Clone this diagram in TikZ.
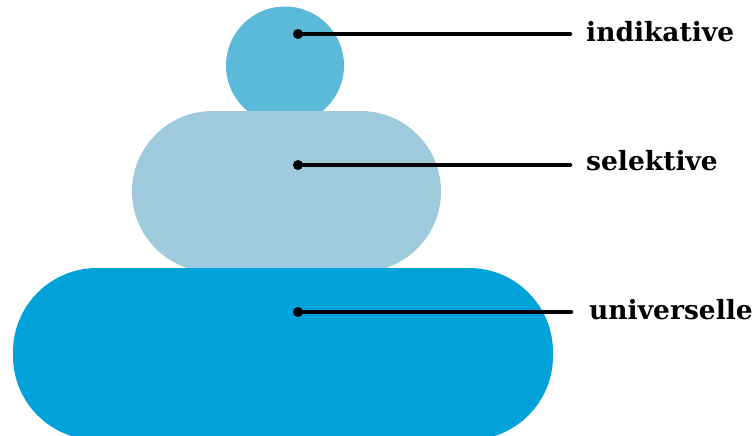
\documentclass[tikz,border=0pt]{standalone}
\usepackage{fontspec}
\setmainfont{DejaVu Serif}
\usetikzlibrary{shapes.misc}
\definecolor{cInd}{RGB}{91,185,218}
\definecolor{cSel}{RGB}{158,202,219}
\definecolor{cUni}{RGB}{0,162,217}
\tikzset{
  layer/.style={draw=none, inner sep=0pt, outer sep=0pt},
  leader/.style={line width=4.5pt, line cap=round},
  dotmark/.style={circle, fill=black, inner sep=0pt, minimum size=10pt},
  lbl/.style={anchor=base west, inner sep=0pt, font=\bfseries\fontsize{26.5}{30}\selectfont}
}
\begin{document}
\begin{tikzpicture}[x=1pt,y=-1pt]
\useasboundingbox (0,0) rectangle (755,436);
\node[layer, circle, fill=cInd, minimum size=118pt] (ind) at (285,65.5) {};
\node[layer, rounded rectangle, fill=cSel, minimum width=309pt, minimum height=161pt] (sel) at (286.5,191.5) {};
\node[layer, rectangle, rounded corners=84pt, fill=cUni, minimum width=540pt, minimum height=172pt] (uni) at (283,354) {};
\node[dotmark] (p1) at (298,34) {};
\node[dotmark] (p2) at (298,165) {};
\node[dotmark] (p3) at (298,312) {};
\coordinate (e1) at (570,34);
\coordinate (e2) at (570,165);
\coordinate (e3) at (571,312);
\draw[leader] (p1.center) -- (e1);
\draw[leader] (p2.center) -- (e2);
\draw[leader] (p3.center) -- (e3);
\node[lbl] (t1) at (586,42) {indikative};
\node[lbl] (t2) at (586,170) {selektive};
\node[lbl] (t3) at (589,319) {universelle};
\end{tikzpicture}
\end{document}
